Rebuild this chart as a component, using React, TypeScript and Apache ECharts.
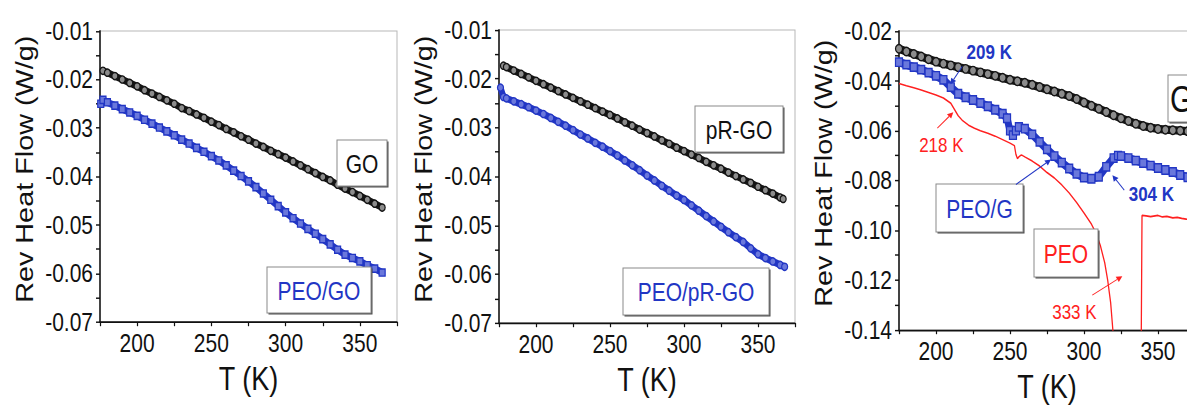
import React, { useEffect, useRef } from "react";
import * as echarts from "echarts";

// The reference figure is an Arial plot stretched vertically by about 1.2;
// the chart is drawn at 1/1.2 height and stretched back with CSS.
const SY = 1.2;
const SANS = "'Liberation Sans', Arial, sans-serif";
const BLUE = "#2236c4";
const RED = "#ff2020";
const INK = "#111111";

// ---------- Panel 1: GO / PEO/GO ----------
const go1: number[][] = [
  [177, -0.0182], [180, -0.0186], [185, -0.0193], [190, -0.02], [195, -0.0207], [200, -0.0214],
  [205, -0.0222], [210, -0.0229], [215, -0.0236], [220, -0.0243], [225, -0.025], [230, -0.0259],
  [235, -0.0265], [240, -0.0272], [245, -0.0279], [250, -0.0287], [255, -0.0294], [260, -0.0302],
  [265, -0.0309], [270, -0.0317], [275, -0.0324], [280, -0.0332], [285, -0.0339], [290, -0.0347],
  [295, -0.0354], [300, -0.0361], [305, -0.0369], [310, -0.0377], [315, -0.0385], [320, -0.0393],
  [325, -0.0401], [330, -0.0408], [335, -0.0417], [340, -0.0425], [345, -0.0432], [350, -0.044],
  [355, -0.0448], [360, -0.0456], [365, -0.0464],
];
const peoGo1: number[][] = [
  [175.5, -0.025], [177, -0.0242], [180, -0.0247], [185, -0.0254], [190, -0.0261], [195, -0.0268],
  [200, -0.0275], [205, -0.0283], [210, -0.0291], [215, -0.0299], [220, -0.0307], [225, -0.0315],
  [230, -0.0324], [235, -0.0332], [240, -0.0341], [245, -0.0349], [250, -0.0358], [255, -0.0367],
  [260, -0.0377], [265, -0.0388], [270, -0.0399], [275, -0.041], [280, -0.0422], [285, -0.0435],
  [290, -0.0448], [295, -0.0461], [300, -0.0474], [305, -0.0486], [310, -0.0497], [315, -0.0508],
  [320, -0.0518], [325, -0.0529], [330, -0.054], [335, -0.0551], [340, -0.0561], [345, -0.0568],
  [350, -0.0575], [355, -0.0583], [360, -0.059], [365, -0.0598],
];

// ---------- Panel 2: pR-GO / PEO/pR-GO ----------
const prgo2: number[][] = [
  [178, -0.0173], [180, -0.0176], [185, -0.0183], [190, -0.019], [195, -0.0197], [200, -0.0204],
  [205, -0.0211], [210, -0.0218], [215, -0.0225], [220, -0.0232], [225, -0.0239], [230, -0.0246],
  [235, -0.0253], [240, -0.026], [245, -0.0267], [250, -0.0274], [255, -0.0281], [260, -0.0289],
  [265, -0.0296], [270, -0.0304], [275, -0.0311], [280, -0.0318], [285, -0.0326], [290, -0.0333],
  [295, -0.0341], [300, -0.0348], [305, -0.0355], [310, -0.0362], [315, -0.037], [320, -0.0377],
  [325, -0.0384], [330, -0.0392], [335, -0.0399], [340, -0.0406], [345, -0.0413], [350, -0.0421],
  [355, -0.0428], [360, -0.0435], [365, -0.0443], [367, -0.0446],
];
const peoPrgo2: number[][] = [
  [176, -0.0218], [178, -0.0237], [180, -0.024], [185, -0.0246], [190, -0.0252], [195, -0.0258],
  [200, -0.0265], [205, -0.0272], [210, -0.028], [215, -0.0288], [220, -0.0296], [225, -0.0305],
  [230, -0.0314], [235, -0.0322], [240, -0.0331], [245, -0.0339], [250, -0.0348], [255, -0.0357],
  [260, -0.0367], [265, -0.0377], [270, -0.0387], [275, -0.0398], [280, -0.0408], [285, -0.0419],
  [290, -0.0429], [295, -0.0439], [300, -0.0448], [305, -0.0459], [310, -0.047], [315, -0.0481],
  [320, -0.0492], [325, -0.0503], [330, -0.0514], [335, -0.0524], [340, -0.0534], [345, -0.0547],
  [350, -0.0559], [355, -0.0567], [360, -0.0574], [365, -0.0581], [368, -0.0585],
];

// ---------- Panel 3: GO / PEO/G / PEO ----------
const go3: number[][] = [
  [175, -0.0271], [180, -0.0282], [185, -0.0292], [190, -0.0302], [195, -0.0313], [200, -0.0323],
  [205, -0.0331], [210, -0.0338], [215, -0.0345], [220, -0.0352], [225, -0.0359], [230, -0.0366],
  [235, -0.0373], [240, -0.038], [245, -0.0388], [250, -0.0396], [255, -0.0402], [260, -0.0408],
  [265, -0.0416], [270, -0.0425], [275, -0.0434], [280, -0.0443], [285, -0.0452], [290, -0.0461],
  [295, -0.0473], [300, -0.0487], [305, -0.05], [310, -0.0512], [315, -0.0525], [320, -0.0538],
  [325, -0.055], [330, -0.0561], [335, -0.0572], [340, -0.0581], [345, -0.0588], [350, -0.0593],
  [355, -0.0596], [360, -0.0598], [365, -0.06], [370, -0.0602], [373, -0.0603],
];
const peoG3: number[][] = [
  [175, -0.0325], [180, -0.0335], [185, -0.0345], [190, -0.0355], [195, -0.0367], [200, -0.038],
  [205, -0.0396], [210, -0.0425], [215, -0.0452], [220, -0.0466], [225, -0.0477], [230, -0.0489],
  [235, -0.0502], [240, -0.0516], [245, -0.0532], [248, -0.055], [250, -0.06], [252, -0.0618],
  [254, -0.06], [256, -0.0585], [260, -0.0592], [265, -0.0615], [270, -0.0645], [275, -0.0675],
  [280, -0.0702], [285, -0.0728], [290, -0.0752], [295, -0.0773], [300, -0.0788], [305, -0.0793],
  [310, -0.0785], [315, -0.0745], [320, -0.071], [323, -0.07], [325, -0.0702], [330, -0.071],
  [335, -0.072], [340, -0.073], [345, -0.074], [350, -0.075], [355, -0.0758], [360, -0.0766],
  [365, -0.0778], [370, -0.0787],
];
const peoLow3: number[][] = [
  [175, -0.0411], [180, -0.042], [185, -0.0428], [190, -0.0437], [195, -0.0447], [200, -0.0457],
  [205, -0.0469], [210, -0.049], [213, -0.052], [215, -0.054], [218, -0.056], [222, -0.0578],
  [226, -0.059], [230, -0.06], [235, -0.061], [240, -0.0622], [245, -0.0636], [250, -0.065],
  [253, -0.066], [254, -0.0695], [255, -0.0712], [256, -0.0705], [257, -0.07], [258, -0.0698],
  [260, -0.0705], [265, -0.0722], [270, -0.0742], [275, -0.0768], [280, -0.079], [285, -0.0818],
  [290, -0.085], [295, -0.0888], [300, -0.093], [305, -0.0975], [308, -0.101], [311, -0.106],
  [314, -0.113], [316, -0.12], [318, -0.129], [319.5, -0.14], [320.5, -0.15],
];
const peoHigh3: number[][] = [
  [338.5, -0.16], [339.2, -0.094], [342, -0.0942], [345, -0.0945], [348, -0.0942], [350, -0.094],
  [353, -0.0946], [356, -0.0944], [360, -0.095], [363, -0.0948], [366, -0.0952], [369, -0.0955],
  [372, -0.0958],
];

// annotations of panel 3 (data coordinates: [T, value])
const notes3 = [
  { text: "209 K", color: BLUE, bold: true, at: [236, -0.0285], from: [217.8, -0.0342], to: [209.7, -0.0414] },
  { text: "218 K", color: RED, bold: false, at: [203.6, -0.0658], from: [200.9, -0.059], to: [211.7, -0.0526] },
  { text: "304 K", color: BLUE, bold: true, at: [345.5, -0.0855], from: [327.2, -0.0839], to: [319.2, -0.0779] },
  { text: "333 K", color: RED, bold: false, at: [293.5, -0.1328], from: [305.6, -0.126], to: [325.9, -0.1184] },
];
const peoGArrow = { from: [254, -0.0816], to: [277.7, -0.0716] };

// legend-like boxes in screen pixels: [x, y, w, h, label, color, fontSize, textLeft]
const boxes: [number, number, number, number, string, string, number, number | null][] = [
  [337, 140, 50, 46, "GO", INK, 21, null],
  [267, 267, 104, 46, "PEO/GO", BLUE, 21, null],
  [695, 106, 88, 46, "pR-GO", INK, 21, null],
  [623, 268, 146, 47, "PEO/pR-GO", BLUE, 21, null],
  [1168, 75, 70, 47, "GO", INK, 30, 1170],
  [936, 184, 87, 48, "PEO/G", BLUE, 21, null],
  [1034, 229, 64, 48, "PEO", RED, 21, null],
];

// grid boxes in screen pixels (top, bottom) – converted to chart units below
const grids = [
  { left: 100, width: 297, top: 31, bottom: 322 },
  { left: 499, width: 296, top: 30, bottom: 323 },
  { left: 899, width: 296, top: 31, bottom: 330 },
];
const yRanges = [
  { min: -0.07, max: -0.01, interval: 0.01 },
  { min: -0.07, max: -0.01, interval: 0.01 },
  { min: -0.14, max: -0.02, interval: 0.02 },
];

function xAxisCfg(gridIndex: number) {
  return {
    type: "value", gridIndex, min: 175, max: 375, interval: 25,
    name: "T (K)", nameLocation: "middle", nameGap: 34,
    nameTextStyle: { fontFamily: SANS, fontSize: 27, color: INK },
    axisLine: { show: true, onZero: false, lineStyle: { color: INK, width: 1.4 } },
    axisTick: { show: true, inside: false, length: 3.5, lineStyle: { color: INK, width: 1.2 } },
    axisLabel: {
      margin: 7, fontFamily: SANS, fontSize: 21, color: INK,
      formatter: (v: number) => (Math.round(v) % 50 === 0 ? String(Math.round(v)) : ""),
    },
    splitLine: { show: false },
  };
}
function yAxisCfg(gridIndex: number) {
  const r = yRanges[gridIndex];
  return {
    type: "value", gridIndex, min: r.min, max: r.max, interval: r.interval,
    name: "Rev Heat Flow (W/g)", nameLocation: "middle", nameGap: 63, nameRotate: 90,
    nameTextStyle: { fontFamily: SANS, fontSize: 24, color: INK, padding: [0, 0, 0, 12] },
    axisLine: { show: true, onZero: false, lineStyle: { color: INK, width: 1.5 } },
    axisTick: { show: true, inside: false, length: 4, lineStyle: { color: INK, width: 1.2 } },
    minorTick: { show: true, splitNumber: 2, length: 4, lineStyle: { color: INK, width: 1.2 } },
    axisLabel: {
      margin: 7, fontFamily: SANS, fontSize: 21, color: INK,
      formatter: (v: number) => v.toFixed(2),
    },
    splitLine: { show: false },
    minorSplitLine: { show: false },
  };
}

function band(data: number[][], idx: number, color: string, fill: string, symbol: string, lw: number, size: number) {
  return {
    type: "line", data, xAxisIndex: idx, yAxisIndex: idx, clip: true,
    symbol, symbolSize: size, showSymbol: true,
    lineStyle: { color, width: lw },
    itemStyle: { color: fill, borderColor: color, borderWidth: 1.2 },
    z: 3,
  };
}
function thin(data: number[][], idx: number, color: string) {
  return {
    type: "line", data, xAxisIndex: idx, yAxisIndex: idx, clip: true,
    symbol: "none", lineStyle: { color, width: 1.3 }, z: 2,
  };
}

function arrow(p0: number[], p1: number[], color: string) {
  // work in screen space so the head keeps its shape after the stretch
  const a = [p0[0], p0[1] * SY], b = [p1[0], p1[1] * SY];
  const dx = b[0] - a[0], dy = b[1] - a[1];
  const len = Math.hypot(dx, dy) || 1;
  const ux = dx / len, uy = dy / len;
  const hl = 6, hw = 3;
  const bx = b[0] - ux * hl, by = b[1] - uy * hl;
  const pts = [[b[0], b[1]], [bx - uy * hw, by + ux * hw], [bx + uy * hw, by - ux * hw]].map((p) => [p[0], p[1] / SY]);
  return [
    { type: "line", shape: { x1: a[0], y1: a[1] / SY, x2: bx, y2: by / SY }, style: { stroke: color, lineWidth: 0.9 }, z: 100 },
    { type: "polygon", shape: { points: pts }, style: { fill: color }, z: 100 },
  ];
}

export default function App() {
  const ref = useRef<HTMLDivElement>(null);
  useEffect(() => {
    if (!ref.current) return;
    const chart = echarts.init(ref.current, null, { renderer: "svg" });
    chart.setOption({
      animation: false,
      backgroundColor: "#ffffff",
      grid: grids.map((g) => ({
        left: g.left, width: g.width, top: g.top / SY, height: (g.bottom - g.top) / SY,
        show: true, borderColor: "#b8b8b8", borderWidth: 1, backgroundColor: "transparent",
      })),
      xAxis: [0, 1, 2].map(xAxisCfg),
      yAxis: [0, 1, 2].map(yAxisCfg),
      series: [
        band(go1, 0, "#141414", "#8c8c8c", "circle", 6, 6),
        band(peoGo1, 0, BLUE, "#6a78dc", "rect", 6, 6),
        band(prgo2, 1, "#141414", "#8c8c8c", "circle", 6, 6),
        band(peoPrgo2, 1, BLUE, "#6a78dc", "circle", 6, 6),
        band(go3, 2, "#141414", "#8c8c8c", "circle", 7, 7),
        band(peoG3, 2, BLUE, "#6a78dc", "rect", 7, 7),
        thin(peoLow3, 2, RED),
        thin(peoHigh3, 2, RED),
      ],
    });

    const px = (p: number[]) => chart.convertToPixel({ gridIndex: 2 }, p) as number[];
    const elements: any[] = [];
    boxes.forEach(([x, y, w, h, label, color, fs, left]) => {
      const ty = y / SY, th = h / SY;
      elements.push({ type: "rect", shape: { x: x + 1.5, y: ty + 1.3, width: w, height: th }, style: { fill: "#4a4a4a" }, z: 90 });
      elements.push({ type: "rect", shape: { x, y: ty, width: w, height: th }, style: { fill: "#ffffff", stroke: "#8a8a8a", lineWidth: 1 }, z: 91 });
      elements.push({
        type: "text", x: left == null ? x + w / 2 : left, y: ty + th / 2 + 1, z: 92,
        style: { text: label, fill: color, fontFamily: SANS, fontSize: fs, align: left == null ? "center" : "left", verticalAlign: "middle" },
      });
    });
    notes3.forEach((n) => {
      const a = px(n.at);
      elements.push({
        type: "text", x: a[0], y: a[1], z: 100,
        style: { text: n.text, fill: n.color, fontFamily: SANS, fontSize: 17, fontWeight: n.bold ? "bold" : "normal", align: "center", verticalAlign: "middle" },
      });
      elements.push(...arrow(px(n.from), px(n.to), n.color));
    });
    elements.push(...arrow(px(peoGArrow.from), px(peoGArrow.to), BLUE));
    chart.setOption({ graphic: elements });

    return () => chart.dispose();
  }, []);
  return (
    <div style={{ position: "fixed", left: 0, top: 0, width: 1187, height: 409, overflow: "hidden", background: "#fff" }}>
      <div
        ref={ref}
        style={{ width: 1212, height: Math.round(409 / SY), transform: `scaleY(${SY})`, transformOrigin: "0 0" }}
      />
    </div>
  );
}
